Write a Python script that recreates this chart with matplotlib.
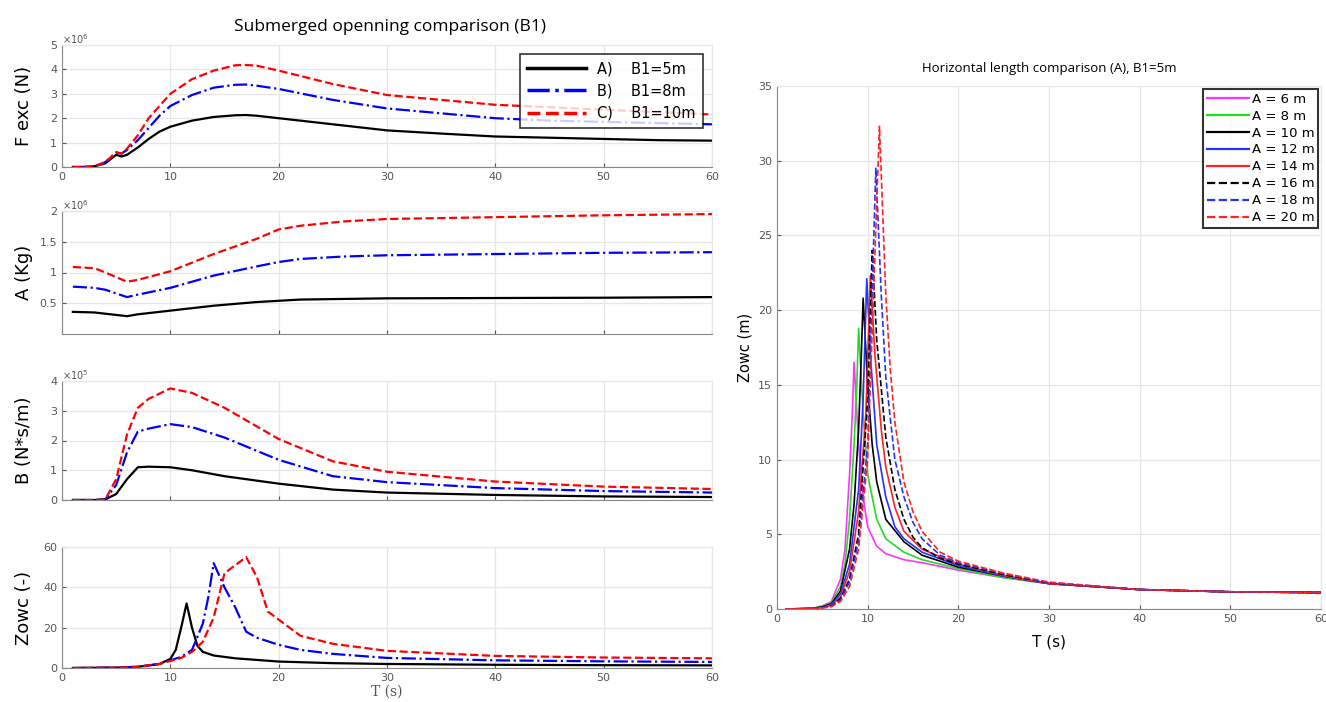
import matplotlib
matplotlib.use("Agg")
import matplotlib.pyplot as plt

# ---- left: submerged opening comparison (B1) ----
B1_labels = ["A)    B1=5m", "B)    B1=8m", "C)    B1=10m"]

fexc_T = [1, 2, 3, 4, 5, 5.5, 6, 7, 8, 9, 10, 12, 14, 16, 17, 18, 20, 25, 30, 35, 40, 45, 50, 55, 60]
fexc_5 = [0, 0, 0.03, 0.15, 0.5, 0.43, 0.5, 0.8, 1.15, 1.45, 1.65, 1.9, 2.05, 2.12, 2.13, 2.1, 2.0, 1.75, 1.5, 1.37, 1.25, 1.2, 1.15, 1.1, 1.08]
fexc_8 = [0, 0, 0.03, 0.2, 0.6, 0.55, 0.7, 1.1, 1.6, 2.1, 2.5, 2.95, 3.25, 3.37, 3.38, 3.33, 3.2, 2.75, 2.4, 2.2, 2.0, 1.9, 1.85, 1.8, 1.75]
fexc_10 = [0, 0, 0.03, 0.2, 0.6, 0.55, 0.75, 1.3, 2.0, 2.5, 3.0, 3.6, 3.95, 4.17, 4.18, 4.15, 3.95, 3.4, 2.95, 2.75, 2.55, 2.45, 2.35, 2.25, 2.15]

amass_T = [1, 3, 4, 6, 7, 10, 14, 18, 20, 22, 26, 30, 40, 50, 60]
amass_5 = [0.36, 0.35, 0.33, 0.29, 0.32, 0.38, 0.46, 0.52, 0.54, 0.56, 0.57, 0.58, 0.585, 0.59, 0.6]
amass_8 = [0.77, 0.75, 0.72, 0.6, 0.64, 0.75, 0.95, 1.1, 1.17, 1.22, 1.26, 1.28, 1.3, 1.32, 1.33]
amass_10 = [1.09, 1.07, 1.0, 0.85, 0.88, 1.02, 1.3, 1.55, 1.7, 1.76, 1.83, 1.87, 1.9, 1.93, 1.95]

bdamp_T = [1, 3, 4, 5, 6, 7, 8, 10, 12, 15, 20, 25, 30, 40, 50, 60]
bdamp_5 = [0, 0, 0.02, 0.2, 0.7, 1.1, 1.12, 1.1, 1.0, 0.8, 0.55, 0.35, 0.25, 0.17, 0.12, 0.1]
bdamp_8 = [0, 0, 0.02, 0.5, 1.6, 2.3, 2.4, 2.55, 2.45, 2.1, 1.35, 0.8, 0.6, 0.4, 0.3, 0.25]
bdamp_10 = [0, 0, 0.02, 0.7, 2.2, 3.1, 3.4, 3.75, 3.6, 3.1, 2.05, 1.3, 0.95, 0.62, 0.45, 0.37]

zowc5_T = [1, 5, 7, 9, 10, 10.5, 11, 11.5, 12, 12.5, 13, 14, 16, 20, 25, 30, 40, 50, 60]
zowc5 = [0, 0.2, 0.6, 2, 4.5, 9, 20, 32, 20, 11, 8, 6.2, 4.8, 3.2, 2.4, 2.0, 1.6, 1.4, 1.3]
zowc8_T = [1, 5, 7, 9, 10, 11, 12, 13, 13.5, 14, 15, 16, 17, 18, 20, 22, 25, 30, 40, 50, 60]
zowc8 = [0, 0.2, 0.6, 2, 3.8, 5.5, 9, 22, 35, 52, 40, 30, 18, 15, 11.5, 9, 7, 5, 3.8, 3.3, 3]
zowc10_T = [1, 5, 7, 9, 10, 11, 12, 13, 14, 15, 16, 17, 18, 19, 20, 22, 25, 30, 40, 50, 60]
zowc10 = [0, 0.2, 0.6, 2, 3.5, 5, 8, 13, 25, 47, 51, 55, 45, 28, 24, 16, 12, 8.5, 6, 5.2, 4.8]

# ---- right: horizontal length comparison (A) ----
A_labels = ["A = 6 m", "A = 8 m", "A = 10 m", "A = 12 m", "A = 14 m", "A = 16 m", "A = 18 m", "A = 20 m"]
A_T = [
    [1, 4, 5, 6, 7, 7.5, 8, 8.3, 8.5, 9, 9.5, 10, 11, 12, 14, 16, 20, 25, 30, 40, 50, 60],
    [1, 4, 5, 6, 7, 7.5, 8, 8.5, 8.8, 9.0, 9.5, 10, 11, 12, 14, 16, 20, 25, 30, 40, 50, 60],
    [1, 4, 5, 6, 7, 8, 8.5, 9, 9.3, 9.5, 10, 10.5, 11, 12, 14, 16, 20, 25, 30, 40, 50, 60],
    [1, 4, 5, 6, 7, 8, 9, 9.5, 9.9, 10.3, 11, 12, 13, 14, 16, 20, 25, 30, 40, 50, 60],
    [1, 4, 5, 6, 7, 8, 9, 9.8, 10.3, 10.8, 11.5, 12, 13, 14, 16, 20, 25, 30, 40, 50, 60],
    [1, 4, 5, 6, 7, 8, 9, 10, 10.5, 11, 12, 13, 14, 15, 16, 18, 20, 25, 30, 40, 50, 60],
    [1, 4, 5, 6, 7, 8, 9, 10, 10.9, 11.5, 12, 13, 14, 15, 16, 18, 20, 25, 30, 40, 50, 60],
    [1, 4, 5, 6, 7, 8, 9, 10, 11.3, 12, 12.5, 13, 14, 15, 16, 18, 20, 25, 30, 40, 50, 60],
]
A_Z = [
    [0, 0.05, 0.2, 0.5, 2, 4, 9, 13, 16.5, 11, 7.5, 5.5, 4.2, 3.7, 3.3, 3.1, 2.6, 2.1, 1.7, 1.3, 1.15, 1.1],
    [0, 0.05, 0.2, 0.4, 1.5, 3, 6, 11, 15, 18.8, 13, 9, 6, 4.7, 3.8, 3.3, 2.7, 2.1, 1.7, 1.3, 1.15, 1.1],
    [0, 0.04, 0.15, 0.35, 1.2, 4, 7, 12, 17, 20.8, 15, 11, 8.5, 6, 4.5, 3.6, 2.8, 2.2, 1.7, 1.3, 1.15, 1.1],
    [0, 0.03, 0.12, 0.3, 1.0, 3, 8, 14, 22.1, 17, 11, 7.5, 5.5, 4.7, 3.8, 2.9, 2.2, 1.7, 1.3, 1.15, 1.1],
    [0, 0.03, 0.1, 0.25, 0.8, 2.5, 6.5, 13, 22.3, 17, 12, 9.5, 6.8, 5.2, 4, 3.0, 2.25, 1.7, 1.3, 1.15, 1.1],
    [0, 0.02, 0.1, 0.2, 0.7, 2, 5, 14, 24, 18, 11.5, 8, 6, 4.8, 4.1, 3.4, 3.0, 2.3, 1.75, 1.3, 1.15, 1.1],
    [0, 0.02, 0.08, 0.2, 0.6, 1.8, 4.5, 11, 29.5, 21, 15.5, 10, 7.5, 5.8, 4.7, 3.6, 3.1, 2.35, 1.75, 1.3, 1.15, 1.1],
    [0, 0.02, 0.07, 0.15, 0.5, 1.5, 4, 10, 32.3, 21, 16, 12.5, 8.5, 6.5, 5.2, 3.8, 3.2, 2.4, 1.8, 1.3, 1.15, 1.1],
]
A_colors = ["#ff33ff", "#22dd22", "black", "#2233ff", "#ff2222", "black", "#2233ff", "#ff2222"]
A_styles = ["-", "-", "-", "-", "-", "--", "--", "--"]

W, H = 1326, 702
fig = plt.figure(figsize=(W / 100, H / 100), dpi=100)
GRID = "#e6e6e6"
TICK = "#555555"


def px_axes(x0, y0, x1, y1):
    # axes from pixel box (top-left origin)
    return fig.add_axes([x0 / W, 1 - y1 / H, (x1 - x0) / W, (y1 - y0) / H])


def style(ax, ylim, yticks, show_x=True):
    ax.set_xlim(0, 60)
    ax.set_ylim(*ylim)
    ax.set_xticks(range(0, 61, 10))
    ax.set_yticks(yticks)
    ax.grid(True, color=GRID, linewidth=0.9)
    ax.set_axisbelow(True)
    ax.tick_params(labelsize=8, colors=TICK, length=3, direction="in")
    for s in ["top", "right"]:
        ax.spines[s].set_color(GRID)
    for s in ["left", "bottom"]:
        ax.spines[s].set_color("#888888")
    if not show_x:
        ax.tick_params(labelbottom=False)


left_styles = [("black", "-", 1.6), ("blue", "-.", 1.6), ("red", "--", 1.6)]
x0, x1 = 62, 712

ax1 = px_axes(x0, 45, x1, 167)
for y, (c, ls, lw), lab in zip([fexc_5, fexc_8, fexc_10], left_styles, B1_labels):
    ax1.plot(fexc_T, y, color=c, linestyle=ls, linewidth=lw, label=lab)
style(ax1, (0, 5), range(0, 6))
ax1.set_ylabel("F exc (N)", fontsize=13, family="DejaVu Sans")
ax1.text(0.0, 1.01, r"$\times10^{6}$", transform=ax1.transAxes, fontsize=7, color=TICK)
leg = ax1.legend(loc="upper right", fontsize=10.5, frameon=True, fancybox=False,
                 edgecolor="black", handlelength=4, borderpad=0.5, labelspacing=0.5,
                 borderaxespad=0.6)
leg.get_frame().set_linewidth(1.2)
for ln in leg.get_lines():
    ln.set_linewidth(2.5)

ax2 = px_axes(x0, 211, x1, 334)
for y, (c, ls, lw) in zip([amass_5, amass_8, amass_10], left_styles):
    ax2.plot(amass_T, y, color=c, linestyle=ls, linewidth=lw)
style(ax2, (0, 2), [0.5, 1, 1.5, 2], show_x=False)
ax2.set_yticklabels(["0.5", "1", "1.5", "2"])
ax2.set_ylabel("A (Kg)", fontsize=13)
ax2.text(0.0, 1.01, r"$\times10^{6}$", transform=ax2.transAxes, fontsize=7, color=TICK)

ax3 = px_axes(x0, 381, x1, 500)
for y, (c, ls, lw) in zip([bdamp_5, bdamp_8, bdamp_10], left_styles):
    ax3.plot(bdamp_T, y, color=c, linestyle=ls, linewidth=lw)
style(ax3, (0, 4), range(0, 5), show_x=False)
ax3.set_ylabel("B (N*s/m)", fontsize=13)
ax3.text(0.0, 1.01, r"$\times10^{5}$", transform=ax3.transAxes, fontsize=7, color=TICK)

ax4 = px_axes(x0, 547, x1, 668)
for xs, y, (c, ls, lw) in zip([zowc5_T, zowc8_T, zowc10_T], [zowc5, zowc8, zowc10], left_styles):
    ax4.plot(xs, y, color=c, linestyle=ls, linewidth=lw)
style(ax4, (0, 60), range(0, 61, 20))
ax4.set_ylabel("Zowc (-)", fontsize=13)
ax4.set_xlabel("T (s)", fontsize=10, family="DejaVu Serif", color=TICK, labelpad=1)

for ax in (ax1, ax2, ax3, ax4):
    ax.yaxis.set_label_coords(-0.045, 0.5)

fig.text(390 / W, 1 - 27 / H, "Submerged openning comparison (B1)", ha="center", va="center",
         fontsize=12.5, family="Open Sans")

# right panel
axr = px_axes(777, 86, 1321, 609)
for xs, ys, c, ls, lab in zip(A_T, A_Z, A_colors, A_styles, A_labels):
    axr.plot(xs, ys, color=c, linestyle=ls, linewidth=1.2, label=lab)
style(axr, (0, 35), range(0, 36, 5))
axr.set_ylabel("Zowc (m)", fontsize=10.5)
axr.set_xlabel("T (s)", fontsize=11, labelpad=8)
axr.set_title("Horizontal length comparison (A), B1=5m", fontsize=9.5, pad=10, family="Open Sans")
legr = axr.legend(loc="upper right", fontsize=9.5, frameon=True, fancybox=False, edgecolor="black",
                  handlelength=3.2, handletextpad=0.2, labelspacing=0.3, borderpad=0.3,
                  borderaxespad=0.2)
legr.get_frame().set_linewidth(1.5)
for ln in legr.get_lines():
    ln.set_linewidth(1.6)

fig.savefig("out.png", dpi=100)
